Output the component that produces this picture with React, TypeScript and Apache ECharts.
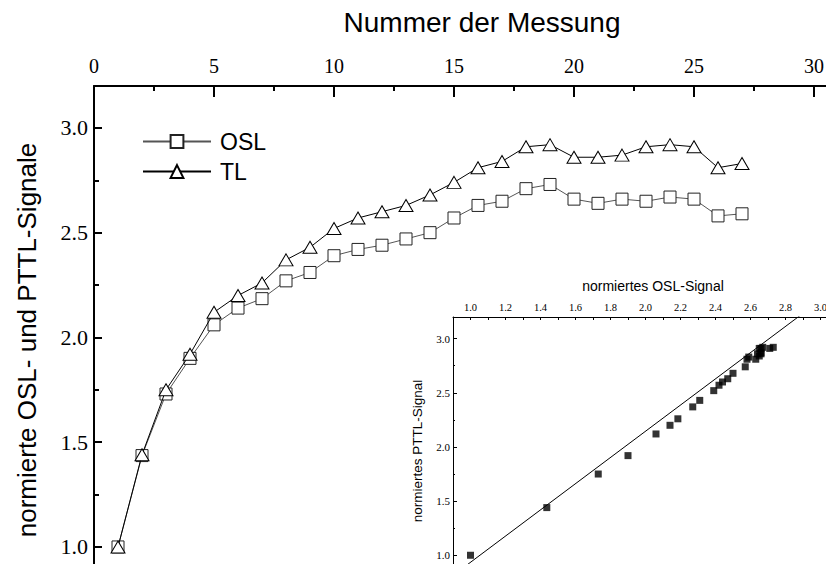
import React, { useEffect, useRef } from "react";
import * as echarts from "echarts";

// ---- data ----
const measurementNumbers = [1, 2, 3, 4, 5, 6, 7, 8, 9, 10, 11, 12, 13, 14, 15, 16, 17, 18, 19, 20, 21, 22, 23, 24, 25, 26, 27];
const oslValues = [1.0, 1.436, 1.73, 1.9, 2.06, 2.14, 2.185, 2.27, 2.31, 2.39, 2.42, 2.44, 2.47, 2.5, 2.57, 2.63, 2.65, 2.71, 2.73, 2.66, 2.64, 2.66, 2.65, 2.67, 2.66, 2.58, 2.59];
const tlValues = [1.0, 1.44, 1.75, 1.92, 2.12, 2.2, 2.26, 2.37, 2.43, 2.52, 2.57, 2.6, 2.63, 2.68, 2.74, 2.81, 2.84, 2.91, 2.92, 2.86, 2.86, 2.87, 2.91, 2.92, 2.91, 2.81, 2.83];

// fitted straight line in the inset (slope / intercept)
const fitSlope = 1.21;
const fitIntercept = -0.275;
const fitXRange = [0.85, 2.9];

// tick labels
const mainXTickLabels = ["0", "5", "10", "15", "20", "25", "30"];
const mainYTickLabels = ["1.0", "1.5", "2.0", "2.5", "3.0"];
const insetXTickLabels = ["1.0", "1.2", "1.4", "1.6", "1.8", "2.0", "2.2", "2.4", "2.6", "2.8", "3.0"];
const insetYTickLabels = ["1.0", "1.5", "2.0", "2.5", "3.0"];

const seriesNames = ["OSL", "TL"];
const mainXTitle = "Nummer der Messung";
const mainYTitle = "normierte OSL- und PTTL-Signale";
const insetXTitle = "normiertes OSL-Signal";
const insetYTitle = "normiertes PTTL-Signal";

const SANS = "Liberation Sans, Arial, sans-serif";
const SERIF = "Liberation Serif, Times New Roman, serif";

export default function App() {
  const ref = useRef<HTMLDivElement>(null);

  useEffect(() => {
    if (!ref.current) return;
    const chart = echarts.init(ref.current, undefined, { renderer: "svg" });

    const mainData = (vals: number[]) => measurementNumbers.map((n, i) => [n, vals[i]]);
    const insetData = oslValues.map((o, i) => [o, tlValues[i]]);
    const fitData = fitXRange.map((x) => [x, fitIntercept + fitSlope * x]);

    const black = "#000";
    const fmt1 = (list: string[]) => (v: number) => {
      const s = v.toFixed(1);
      return list.includes(s) ? s : "";
    };

    const option: any = {
      animation: false,
      backgroundColor: "#fff",
      grid: [
        { left: 94, top: 86, width: 780, height: 565.7, outerBoundsMode: "none", containLabel: false },
        { left: 453, top: 317, width: 385, height: 292.4, outerBoundsMode: "none", containLabel: false },
      ],
      xAxis: [
        {
          type: "value",
          gridIndex: 0,
          position: "top",
          min: 0,
          max: 32.5,
          interval: 5,
          axisLine: { show: true, onZero: false, lineStyle: { color: black, width: 2 } },
          axisTick: { show: true, inside: true, length: 11, lineStyle: { color: black, width: 2 } },
          minorTick: { show: true, splitNumber: 2, length: 5, lineStyle: { color: black, width: 2 } },
          axisLabel: {
            margin: 10,
            fontFamily: SERIF,
            fontSize: 20,
            color: black,
            formatter: (v: number) => (mainXTickLabels.includes(String(v)) ? String(v) : ""),
          },
          splitLine: { show: false },
          minorSplitLine: { show: false },
        },
        {
          type: "value",
          gridIndex: 1,
          position: "top",
          min: 0.9,
          max: 3.1,
          interval: 0.1,
          axisLine: { show: true, onZero: false, lineStyle: { color: black, width: 1 } },
          axisTick: { show: true, inside: true, length: 3, lineStyle: { color: black, width: 1 } },
          axisLabel: { margin: 4, fontFamily: SERIF, fontSize: 10.5, color: black, formatter: fmt1(insetXTickLabels) },
          splitLine: { show: false },
        },
      ],
      yAxis: [
        {
          type: "value",
          gridIndex: 0,
          position: "left",
          min: 0.5,
          max: 3.2,
          interval: 0.5,
          axisLine: { show: true, onZero: false, lineStyle: { color: black, width: 2 } },
          axisTick: { show: true, inside: true, length: 8, lineStyle: { color: black, width: 2 } },
          axisLabel: { margin: 6, fontFamily: SERIF, fontSize: 22, color: black, formatter: fmt1(mainYTickLabels) },
          splitLine: { show: false },
        },
        {
          type: "value",
          gridIndex: 0,
          position: "left",
          min: 0.5,
          max: 3.2,
          interval: 0.25,
          axisLine: { show: false, onZero: false },
          axisTick: { show: true, inside: true, length: 5, lineStyle: { color: black, width: 2 } },
          axisLabel: { show: false },
          splitLine: { show: false },
        },
        {
          type: "value",
          gridIndex: 1,
          position: "left",
          min: 0.5,
          max: 3.2,
          interval: 0.5,
          axisLine: { show: true, onZero: false, lineStyle: { color: black, width: 1 } },
          axisTick: { show: true, inside: true, length: 4, lineStyle: { color: black, width: 1 } },
          axisLabel: { margin: 3, fontFamily: SERIF, fontSize: 11, color: black, formatter: fmt1(insetYTickLabels) },
          splitLine: { show: false },
        },
        {
          type: "value",
          gridIndex: 1,
          position: "left",
          min: 0.5,
          max: 3.2,
          interval: 0.25,
          axisLine: { show: false, onZero: false },
          axisTick: { show: true, inside: true, length: 2, lineStyle: { color: black, width: 1 } },
          axisLabel: { show: false },
          splitLine: { show: false },
        },
      ],
      legend: {
        data: seriesNames,
        orient: "vertical",
        left: 137,
        top: 125,
        itemWidth: 68,
        itemHeight: 16,
        itemGap: 7,
        selectedMode: false,
        textStyle: { fontFamily: SANS, fontSize: 23, color: black, padding: [0, 0, 0, 4] },
      },
      graphic: [
        {
          type: "text",
          x: 482,
          y: 22,
          style: { text: mainXTitle, font: `28px ${SANS}`, fill: black, textAlign: "center", textVerticalAlign: "middle" },
        },
        {
          type: "text",
          x: 27,
          y: 340,
          rotation: Math.PI / 2,
          style: { text: mainYTitle, font: `26px ${SANS}`, fill: black, textAlign: "center", textVerticalAlign: "middle" },
        },
        {
          type: "text",
          x: 653,
          y: 286,
          style: { text: insetXTitle, font: `14px ${SANS}`, fill: black, textAlign: "center", textVerticalAlign: "middle" },
        },
        {
          type: "text",
          x: 417,
          y: 451,
          rotation: Math.PI / 2,
          style: { text: insetYTitle, font: `13.5px ${SANS}`, fill: black, textAlign: "center", textVerticalAlign: "middle" },
        },
      ],
      series: [
        {
          name: seriesNames[0],
          type: "line",
          xAxisIndex: 0,
          yAxisIndex: 0,
          data: mainData(oslValues),
          symbol: "rect",
          symbolSize: 12,
          showAllSymbol: true,
          lineStyle: { color: "#555", width: 1 },
          itemStyle: { color: "#fff", borderColor: "#222", borderWidth: 1 },
          z: 3,
        },
        {
          name: seriesNames[1],
          type: "line",
          xAxisIndex: 0,
          yAxisIndex: 0,
          data: mainData(tlValues),
          symbol: "triangle",
          symbolSize: [14, 12],
          showAllSymbol: true,
          lineStyle: { color: "#000", width: 1 },
          itemStyle: { color: "#fff", borderColor: "#000", borderWidth: 1 },
          z: 4,
        },
        {
          name: "inset-points",
          type: "scatter",
          xAxisIndex: 1,
          yAxisIndex: 2,
          data: insetData,
          symbol: "rect",
          symbolSize: 7,
          itemStyle: { color: "#000" },
        },
        {
          name: "inset-fit",
          type: "line",
          xAxisIndex: 1,
          yAxisIndex: 2,
          data: fitData,
          showSymbol: false,
          symbol: "none",
          clip: true,
          lineStyle: { color: "#000", width: 1 },
        },
      ],
    };

    chart.setOption(option);
    return () => chart.dispose();
  }, []);

  return (
    <div
      ref={ref}
      style={{ position: "fixed", left: 0, top: 0, width: 900, height: 700, background: "#fff" }}
    />
  );
}
